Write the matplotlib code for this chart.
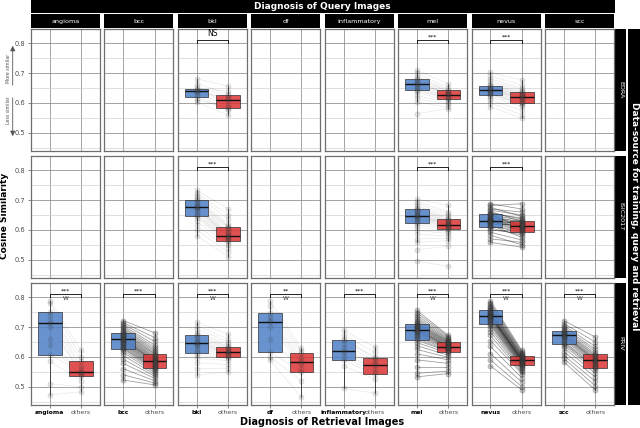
"""
Paired cosine-similarity boxplots: query diagnosis (columns) x data source (rows).
"""

import matplotlib
matplotlib.use("Agg")
import matplotlib.pyplot as plt
from matplotlib.patches import FancyArrowPatch


# 1. Data

rows = ["EDRA", "ISIC2017", "PRIV"]
query_cols = ["angioma", "bcc", "bkl", "df", "inflammatory", "mel", "nevus", "scc"]

# box stats: [lower whisker, q1, median, q3, upper whisker]
edra_same_box = {
    "bkl": [0.603, 0.621, 0.640, 0.648, 0.681],
    "mel": [0.603, 0.642, 0.664, 0.681, 0.709],
    "nevus": [0.587, 0.628, 0.644, 0.657, 0.703],
}
edra_other_box = {
    "bkl": [0.559, 0.583, 0.611, 0.626, 0.656],
    "mel": [0.581, 0.613, 0.628, 0.644, 0.664],
    "nevus": [0.548, 0.598, 0.620, 0.636, 0.676],
}
isic_same_box = {
    "bkl": [0.581, 0.646, 0.676, 0.699, 0.733],
    "mel": [0.558, 0.624, 0.648, 0.671, 0.704],
    "nevus": [0.558, 0.610, 0.631, 0.652, 0.688],
}
isic_other_box = {
    "bkl": [0.510, 0.561, 0.580, 0.610, 0.671],
    "mel": [0.564, 0.602, 0.618, 0.636, 0.682],
    "nevus": [0.542, 0.592, 0.613, 0.630, 0.688],
}
priv_same_box = {
    "angioma": [0.472, 0.608, 0.713, 0.750, 0.789],
    "bcc": [0.522, 0.628, 0.659, 0.681, 0.722],
    "bkl": [0.539, 0.613, 0.647, 0.672, 0.717],
    "df": [0.589, 0.617, 0.718, 0.748, 0.789],
    "inflammatory": [0.494, 0.589, 0.620, 0.656, 0.689],
    "mel": [0.533, 0.656, 0.692, 0.711, 0.756],
    "nevus": [0.611, 0.709, 0.739, 0.758, 0.789],
    "scc": [0.583, 0.644, 0.672, 0.687, 0.722],
}
priv_other_box = {
    "angioma": [0.483, 0.537, 0.548, 0.586, 0.622],
    "bcc": [0.506, 0.563, 0.586, 0.611, 0.681],
    "bkl": [0.550, 0.599, 0.617, 0.633, 0.676],
    "df": [0.464, 0.549, 0.582, 0.613, 0.630],
    "inflammatory": [0.478, 0.541, 0.574, 0.596, 0.633],
    "mel": [0.544, 0.617, 0.633, 0.650, 0.672],
    "nevus": [0.544, 0.572, 0.589, 0.603, 0.622],
    "scc": [0.489, 0.561, 0.589, 0.611, 0.667],
}

# paired points: same diagnosis vs others (index i is one query image)
edra_same_pts = {
    "bkl": [0.681, 0.665, 0.652, 0.648, 0.644, 0.641, 0.638, 0.632, 0.625, 0.618, 0.610, 0.603],
    "mel": [0.709, 0.700, 0.690, 0.684, 0.680, 0.675, 0.670, 0.666, 0.664, 0.660,
            0.655, 0.650, 0.645, 0.642, 0.635, 0.625, 0.615, 0.603, 0.564],
    "nevus": [0.703, 0.690, 0.680, 0.672, 0.665, 0.660, 0.657, 0.654, 0.650, 0.648,
              0.646, 0.644, 0.642, 0.640, 0.638, 0.635, 0.632, 0.630, 0.628, 0.624,
              0.618, 0.610, 0.600, 0.587],
}
edra_other_pts = {
    "bkl": [0.656, 0.630, 0.624, 0.640, 0.612, 0.605, 0.615, 0.590, 0.580, 0.575, 0.585, 0.559],
    "mel": [0.664, 0.650, 0.645, 0.640, 0.638, 0.633, 0.630, 0.628, 0.632, 0.625,
            0.620, 0.618, 0.615, 0.612, 0.608, 0.600, 0.595, 0.585, 0.581],
    "nevus": [0.676, 0.660, 0.650, 0.645, 0.640, 0.636, 0.634, 0.630, 0.628, 0.625,
              0.622, 0.620, 0.618, 0.615, 0.612, 0.608, 0.604, 0.600, 0.598, 0.594,
              0.588, 0.575, 0.560, 0.548],
}
isic_same_pts = {
    "bkl": [0.733, 0.725, 0.718, 0.710, 0.704, 0.699, 0.694, 0.690, 0.685, 0.680,
            0.677, 0.675, 0.672, 0.668, 0.662, 0.655, 0.650, 0.646, 0.640, 0.630,
            0.615, 0.600, 0.581],
    "mel": [0.704, 0.695, 0.688, 0.680, 0.675, 0.671, 0.668, 0.664, 0.660, 0.656,
            0.652, 0.650, 0.648, 0.646, 0.643, 0.640, 0.636, 0.632, 0.628, 0.624,
            0.618, 0.610, 0.598, 0.585, 0.570, 0.558, 0.534, 0.494],
    "nevus": [0.688, 0.682, 0.676, 0.670, 0.666, 0.662, 0.658, 0.655, 0.652, 0.650,
              0.647, 0.644, 0.641, 0.638, 0.636, 0.634, 0.632, 0.631, 0.629, 0.627,
              0.625, 0.622, 0.619, 0.616, 0.613, 0.610, 0.606, 0.600, 0.592, 0.582,
              0.570, 0.558],
}
isic_other_pts = {
    "bkl": [0.671, 0.650, 0.635, 0.620, 0.612, 0.610, 0.605, 0.598, 0.592, 0.588,
            0.584, 0.580, 0.578, 0.575, 0.572, 0.568, 0.565, 0.561, 0.556, 0.548,
            0.538, 0.525, 0.510],
    "mel": [0.682, 0.660, 0.652, 0.645, 0.640, 0.636, 0.634, 0.630, 0.628, 0.625,
            0.622, 0.620, 0.619, 0.618, 0.616, 0.614, 0.612, 0.610, 0.606, 0.602,
            0.598, 0.594, 0.588, 0.580, 0.572, 0.564, 0.545, 0.478],
    "nevus": [0.670, 0.688, 0.645, 0.660, 0.650, 0.628, 0.636, 0.640, 0.610, 0.632,
              0.625, 0.613, 0.620, 0.630, 0.605, 0.618, 0.596, 0.614, 0.622, 0.608,
              0.612, 0.599, 0.616, 0.575, 0.592, 0.602, 0.582, 0.588, 0.566, 0.550,
              0.558, 0.542],
}
priv_same_pts = {
    "angioma": [0.789, 0.782, 0.750, 0.740, 0.725, 0.713, 0.700, 0.660, 0.640, 0.608,
                0.585, 0.510, 0.472],
    "bcc": [0.722, 0.715, 0.710, 0.705, 0.700, 0.696, 0.692, 0.688, 0.684, 0.681,
            0.678, 0.675, 0.672, 0.669, 0.666, 0.663, 0.661, 0.659, 0.657, 0.654,
            0.651, 0.648, 0.645, 0.642, 0.638, 0.634, 0.630, 0.628, 0.622, 0.615,
            0.605, 0.592, 0.578, 0.560, 0.540, 0.522],
    "bkl": [0.717, 0.705, 0.695, 0.685, 0.678, 0.672, 0.666, 0.660, 0.655, 0.650,
            0.647, 0.644, 0.640, 0.635, 0.628, 0.620, 0.613, 0.605, 0.595, 0.580,
            0.560, 0.539],
    "df": [0.789, 0.770, 0.748, 0.735, 0.725, 0.718, 0.700, 0.660, 0.617, 0.600, 0.589],
    "inflammatory": [0.689, 0.675, 0.660, 0.656, 0.645, 0.630, 0.620, 0.612, 0.600,
                     0.589, 0.570, 0.494],
    "mel": [0.756, 0.748, 0.740, 0.733, 0.727, 0.722, 0.717, 0.714, 0.711, 0.708,
            0.705, 0.702, 0.699, 0.696, 0.694, 0.692, 0.690, 0.687, 0.684, 0.680,
            0.675, 0.669, 0.662, 0.656, 0.648, 0.638, 0.625, 0.610, 0.590, 0.565,
            0.545, 0.533],
    "nevus": [0.789, 0.782, 0.777, 0.772, 0.768, 0.764, 0.760, 0.758, 0.755, 0.752,
              0.749, 0.746, 0.744, 0.742, 0.740, 0.739, 0.737, 0.735, 0.733, 0.730,
              0.727, 0.724, 0.720, 0.716, 0.712, 0.709, 0.703, 0.695, 0.685, 0.672,
              0.655, 0.635, 0.611, 0.590, 0.570],
    "scc": [0.722, 0.712, 0.705, 0.700, 0.695, 0.690, 0.687, 0.684, 0.680, 0.677,
            0.674, 0.672, 0.670, 0.667, 0.663, 0.658, 0.652, 0.648, 0.644, 0.638,
            0.630, 0.618, 0.605, 0.595, 0.583],
}
priv_other_pts = {
    "angioma": [0.622, 0.600, 0.586, 0.570, 0.560, 0.548, 0.545, 0.540, 0.537, 0.550,
                0.520, 0.500, 0.483],
    "bcc": [0.681, 0.665, 0.652, 0.640, 0.632, 0.625, 0.620, 0.615, 0.611, 0.608,
            0.604, 0.600, 0.597, 0.594, 0.591, 0.588, 0.586, 0.584, 0.582, 0.580,
            0.577, 0.574, 0.571, 0.568, 0.565, 0.563, 0.560, 0.556, 0.552, 0.547,
            0.541, 0.535, 0.528, 0.520, 0.512, 0.506],
    "bkl": [0.676, 0.660, 0.650, 0.642, 0.636, 0.633, 0.630, 0.627, 0.624, 0.620,
            0.617, 0.615, 0.612, 0.610, 0.606, 0.602, 0.599, 0.595, 0.588, 0.575,
            0.562, 0.550],
    "df": [0.630, 0.620, 0.613, 0.600, 0.590, 0.582, 0.575, 0.560, 0.549, 0.520, 0.464],
    "inflammatory": [0.633, 0.615, 0.600, 0.596, 0.585, 0.578, 0.574, 0.560, 0.548,
                     0.541, 0.525, 0.478],
    "mel": [0.672, 0.668, 0.664, 0.660, 0.657, 0.654, 0.652, 0.650, 0.648, 0.646,
            0.644, 0.642, 0.640, 0.638, 0.636, 0.634, 0.633, 0.631, 0.629, 0.627,
            0.625, 0.622, 0.619, 0.617, 0.612, 0.605, 0.598, 0.590, 0.578, 0.565,
            0.552, 0.544],
    "nevus": [0.622, 0.618, 0.614, 0.611, 0.608, 0.605, 0.603, 0.601, 0.599, 0.597,
              0.595, 0.593, 0.591, 0.590, 0.589, 0.588, 0.586, 0.584, 0.582, 0.580,
              0.578, 0.576, 0.574, 0.572, 0.569, 0.566, 0.562, 0.558, 0.553, 0.548,
              0.544, 0.530, 0.515, 0.500, 0.489],
    "scc": [0.667, 0.650, 0.635, 0.625, 0.618, 0.611, 0.606, 0.602, 0.598, 0.594,
            0.591, 0.589, 0.586, 0.582, 0.578, 0.574, 0.569, 0.565, 0.561, 0.555,
            0.545, 0.532, 0.518, 0.503, 0.489],
}

# significance labels and which panels also carry a "W"
edra_sig = {"bkl": "NS", "mel": "***", "nevus": "***"}
isic_sig = {"bkl": "***", "mel": "***", "nevus": "***"}
priv_sig = {"angioma": "***", "bcc": "***", "bkl": "***", "df": "**",
            "inflammatory": "***", "mel": "***", "nevus": "***", "scc": "***"}
priv_w = ["angioma", "bkl", "df", "mel", "nevus", "scc"]

dense_panels = [("PRIV", "bcc"), ("PRIV", "mel"), ("PRIV", "nevus"),
                ("PRIV", "scc"), ("ISIC2017", "nevus")]

same_box = {"EDRA": edra_same_box, "ISIC2017": isic_same_box, "PRIV": priv_same_box}
other_box = {"EDRA": edra_other_box, "ISIC2017": isic_other_box, "PRIV": priv_other_box}
same_pts = {"EDRA": edra_same_pts, "ISIC2017": isic_same_pts, "PRIV": priv_same_pts}
other_pts = {"EDRA": edra_other_pts, "ISIC2017": isic_other_pts, "PRIV": priv_other_pts}
sig_labels = {"EDRA": edra_sig, "ISIC2017": isic_sig, "PRIV": priv_sig}
w_labels = {"EDRA": [], "ISIC2017": [], "PRIV": priv_w}


# 2. Layout helpers (pixel based)

W, H = 640, 428
BLUE = "#4f80c6"
RED = "#dc3434"
GRID_MAJOR = "#8a8a8a"
GRID_MINOR = "#cccccc"

panel_w = 69
panel_h = 122
col_left = [31 + i * 73.43 for i in range(8)]
row_top = [28.5, 155.5, 282.5]


def rect(left, top, width, height):
    return [left / W, 1 - (top + height) / H, width / W, height / H]


def strip(fig, left, top, width, height, text, rotation=0, size=5, weight="normal"):
    ax = fig.add_axes(rect(left, top, width, height))
    ax.set_facecolor("black")
    ax.set_xticks([])
    ax.set_yticks([])
    for spine in ax.spines.values():
        spine.set_visible(False)
    ax.text(0.5, 0.5, text, color="white", ha="center", va="center",
            rotation=rotation, fontsize=size, fontweight=weight,
            transform=ax.transAxes)
    return ax


def box(ax, pos, stats, color):
    lo, q1, med, q3, hi = stats
    return ax.bxp(
        [{"whislo": lo, "q1": q1, "med": med, "q3": q3, "whishi": hi, "fliers": []}],
        positions=[pos], widths=0.75, patch_artist=True, showcaps=False,
        showfliers=False, manage_ticks=False,
        boxprops={"facecolor": color, "edgecolor": "#333333", "linewidth": 0.6, "alpha": 0.85},
        medianprops={"color": "#111111", "linewidth": 1.0},
        whiskerprops={"color": "#333333", "linewidth": 0.6},
        zorder=3,
    )


# 3. Figure

fig = plt.figure(figsize=(W / 100, H / 100), dpi=100)

strip(fig, 30.5, 0, 584, 13, "Diagnosis of Query Images", size=6.5, weight="bold")

for c, col in enumerate(query_cols):
    strip(fig, col_left[c], 14.3, panel_w, 14, col, size=4.6)

for r, row in enumerate(rows):
    strip(fig, 615, row_top[r], 11, panel_h, row, rotation=-90, size=4.6)

strip(fig, 628, 28.5, 12, 376, "Data-source for training, query and retrieval",
      rotation=-90, size=6.5, weight="bold")

for r, row in enumerate(rows):
    for c, col in enumerate(query_cols):
        ax = fig.add_axes(rect(col_left[c], row_top[r], panel_w, panel_h))
        ax.set_xlim(0.4, 2.6)
        ax.set_ylim(0.44, 0.85)
        ax.set_yticks([0.5, 0.6, 0.7, 0.8])
        ax.set_yticks([0.45, 0.55, 0.65, 0.75], minor=True)
        ax.set_xticks([1, 2])
        ax.grid(which="major", color=GRID_MAJOR, linewidth=0.55)
        ax.grid(which="minor", axis="y", color=GRID_MINOR, linewidth=0.45)
        ax.set_axisbelow(True)
        for spine in ax.spines.values():
            spine.set_color("#6f6f6f")
            spine.set_linewidth(0.9)
        ax.tick_params(which="minor", length=0)
        ax.tick_params(which="major", length=2.5, width=0.5, color="#555555",
                       labelsize=4.8, labelcolor="#4d4d4d", pad=1.5)

        if c == 0:
            ax.set_yticklabels(["0.5", "0.6", "0.7", "0.8"])
        else:
            ax.tick_params(axis="y", length=0, labelleft=False)

        if r == len(rows) - 1:
            labels = ax.set_xticklabels([col, "others"])
            labels[0].set_fontweight("bold")
            labels[0].set_color("black")
            labels[0].set_fontsize(4.3)
            labels[1].set_fontsize(4.5)
        else:
            ax.tick_params(axis="x", length=0, labelbottom=False)

        if col not in same_box[row]:
            continue

        dense = (row, col) in dense_panels
        line_alpha = 0.38 if dense else 0.09
        dot_alpha = 0.30 if dense else 0.14

        a_vals = same_pts[row][col]
        b_vals = other_pts[row][col]
        for a, b in zip(a_vals, b_vals):
            ax.plot([1, 2], [a, b], color="black", alpha=line_alpha,
                    linewidth=0.6 if dense else 0.5, zorder=2)

        box(ax, 1, same_box[row][col], BLUE)
        box(ax, 2, other_box[row][col], RED)

        ax.scatter([1] * len(a_vals), a_vals, s=14, facecolor="#444444",
                   edgecolor="#222222", alpha=dot_alpha, linewidths=0.4, zorder=4)
        ax.scatter([2] * len(b_vals), b_vals, s=14, facecolor="#444444",
                   edgecolor="#222222", alpha=dot_alpha, linewidths=0.4, zorder=4)

        # significance bracket
        ax.plot([1, 1, 2, 2], [0.802, 0.812, 0.812, 0.802], color="black",
                linewidth=0.6, zorder=5)
        label = sig_labels[row][col]
        ax.text(1.5, 0.818 if label == "NS" else 0.822, label, ha="center",
                va="bottom" if label == "NS" else "center",
                fontsize=5.5 if label == "NS" else 4.5, zorder=5)
        if col in w_labels[row]:
            ax.text(1.5, 0.795, "W", ha="center", va="center", fontsize=4.2,
                    color="#333333", zorder=5)


# 4. Outer axis titles and similarity arrows

fig.text(5 / W, 1 - 216 / H, "Cosine Similarity", rotation=90, ha="center",
         va="center", fontsize=6.5, fontweight="bold")
fig.text(322 / W, 1 - 422 / H, "Diagnosis of Retrieval Images", ha="center",
         va="center", fontsize=7, fontweight="bold")

arrow_x = 12.7 / W
fig.add_artist(FancyArrowPatch(
    (arrow_x, 1 - 88 / H), (arrow_x, 1 - 43 / H), transform=fig.transFigure,
    arrowstyle="-|>,head_length=3,head_width=1.5", color="#555555", linewidth=0.6))
fig.add_artist(FancyArrowPatch(
    (arrow_x, 1 - 95 / H), (arrow_x, 1 - 139 / H), transform=fig.transFigure,
    arrowstyle="-|>,head_length=3,head_width=1.5", color="#555555", linewidth=0.6))
fig.text(8.5 / W, 1 - 68 / H, "More similar", rotation=90, ha="center",
         va="center", fontsize=3.4, color="#555555")
fig.text(8.5 / W, 1 - 110 / H, "Less similar", rotation=90, ha="center",
         va="center", fontsize=3.4, color="#555555")

fig.savefig("out.png", dpi=100)
